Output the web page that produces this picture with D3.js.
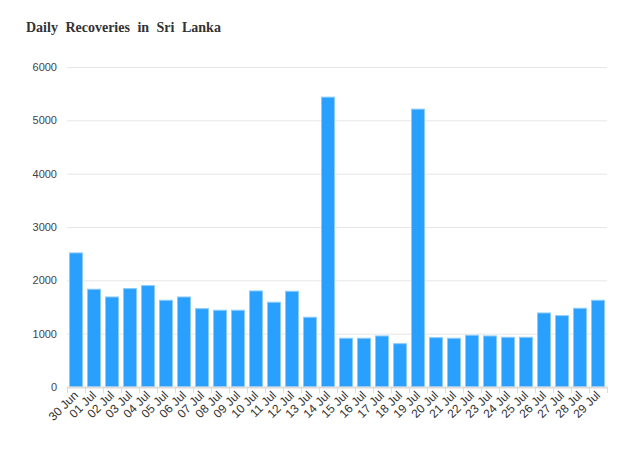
<!DOCTYPE html>
<html><head><meta charset="utf-8">
<script src="https://cdn.jsdelivr.net/npm/d3@7/dist/d3.min.js"></script>
<style>body{margin:0;background:#fff;}svg{display:block;}</style>
</head><body>
<script>
const title = "Daily Recoveries in Sri Lanka";
const categories = ["30 Jun","01 Jul","02 Jul","03 Jul","04 Jul","05 Jul","06 Jul","07 Jul","08 Jul","09 Jul","10 Jul","11 Jul","12 Jul","13 Jul","14 Jul","15 Jul","16 Jul","17 Jul","18 Jul","19 Jul","20 Jul","21 Jul","22 Jul","23 Jul","24 Jul","25 Jul","26 Jul","27 Jul","28 Jul","29 Jul"];
const recoveries = [2514,1833,1688,1845,1901,1626,1688,1469,1439,1439,1801,1589,1795,1308,5435,914,914,957,812,5210,925,914,970,957,932,932,1388,1338,1476,1626];
const yTicks = [0,1000,2000,3000,4000,5000,6000];

const W = 629, H = 455;
const m = {left:67, right:22, top:67, bottom:68};
const svg = d3.select("body").append("svg").attr("width",W).attr("height",H);

const x = d3.scaleBand().domain(categories).range([m.left, W-m.right]).paddingInner(0.28).paddingOuter(0.14);
const y = d3.scaleLinear().domain([0,6000]).range([H-m.bottom, m.top]);

svg.append("text").attr("x",26).attr("y",32)
  .attr("font-family","Liberation Serif, Times New Roman, serif")
  .attr("font-weight","bold").attr("font-size",14).attr("fill","#333")
  .attr("word-spacing","4px").text(title);

// gridlines
svg.append("g").selectAll("line").data(yTicks.filter(d=>d>0)).join("line")
  .attr("x1",m.left).attr("x2",W-m.right)
  .attr("y1",d=>y(d)+0.5).attr("y2",d=>y(d)+0.5)
  .attr("stroke","#e6e6e6").attr("stroke-width",1);

// y labels
svg.append("g").selectAll("text").data(yTicks).join("text")
  .attr("x",57).attr("y",d=>y(d)+4)
  .attr("text-anchor","end").attr("font-family","Liberation Sans, Arial, sans-serif")
  .attr("font-size",11).attr("fill","#444").text(d=>d);

// bars
svg.append("g").selectAll("rect").data(recoveries).join("rect")
  .attr("x",(d,i)=>x(categories[i])).attr("width",x.bandwidth())
  .attr("y",d=>y(d)).attr("height",d=>y(0)-y(d))
  .attr("fill","#299ffe").attr("stroke","#8ccbfb").attr("stroke-width",1);

// baseline
svg.append("line").attr("x1",m.left).attr("x2",W-m.right)
  .attr("y1",y(0)+0.5).attr("y2",y(0)+0.5).attr("stroke","#dcdcdc").attr("stroke-width",2);

// x ticks at band boundaries
const bounds = d3.range(categories.length+1).map(i=>m.left + i*(W-m.left-m.right)/categories.length);
svg.append("g").selectAll("line").data(bounds).join("line")
  .attr("x1",d=>Math.round(d)+0.5).attr("x2",d=>Math.round(d)+0.5)
  .attr("y1",y(0)).attr("y2",y(0)+6).attr("stroke","#dcdcdc");

// x labels
svg.append("g").selectAll("text").data(categories).join("text")
  .attr("transform",d=>`translate(${x(d)+x.bandwidth()/2+3},${y(0)+9}) rotate(-45)`)
  .attr("text-anchor","end").attr("font-family","Liberation Sans, Arial, sans-serif")
  .attr("font-size",12).attr("fill","#333").text(d=>d);
</script>
</body></html>
